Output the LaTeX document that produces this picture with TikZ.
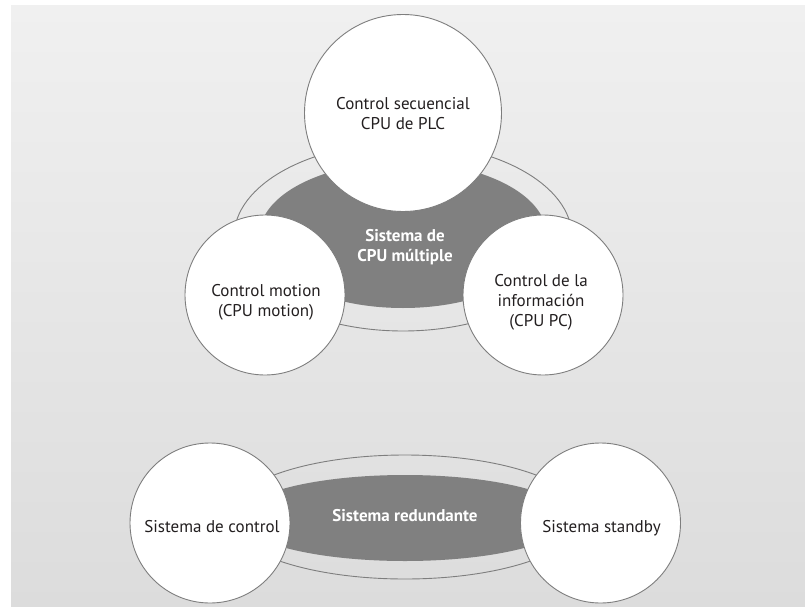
\documentclass[tikz,border=0pt]{standalone}
\usepackage{fontspec}
\setmainfont{PT Sans}
\usetikzlibrary{shapes.geometric}
\definecolor{panelTop}{HTML}{F0F0F0}
\definecolor{panelBot}{HTML}{DCDCDC}
\definecolor{hubgray}{HTML}{808080}
\definecolor{rim}{HTML}{7E7E7E}
\definecolor{ink}{HTML}{231F20}
\begin{document}
\begin{tikzpicture}[x=1pt,y=-1pt,
  unitcircle/.style={circle, draw=rim, line width=0.9pt, fill=white, inner sep=0pt},
  ring/.style={ellipse, draw=rim, line width=0.9pt, inner sep=0pt},
  hub/.style={ellipse, fill=hubgray, draw=none, inner sep=0pt},
  caption/.style={text=ink, font=\fontsize{17}{20}\selectfont, align=center, inner sep=0pt},
  hubtext/.style={text=white, font=\bfseries\fontsize{17}{20}\selectfont, align=center, inner sep=0pt}]
\useasboundingbox (0,0) rectangle (805,607);
% background panel
\shade[top color=panelTop, bottom color=panelBot] (11,6) rectangle (805,606);

% ---- multi-CPU system ----
\node[ring, minimum width=338pt, minimum height=188pt] (ringA) at (403,237) {};
\node[hub, minimum width=287pt, minimum height=146pt] (hubA) at (403,235) {};
\node[unitcircle, minimum size=197pt] (seq) at (403,113) {};
\node[unitcircle, minimum size=160pt] (motion) at (265,295) {};
\node[unitcircle, minimum size=160pt] (info) at (543,295) {};

\node[hubtext] (hubAtext) at (405,247.4) {Sistema de\\CPU múltiple};
\node[caption] (seqtext) at (403,113.8) {Control secuencial\\CPU de PLC};
\node[caption] (motiontext) at (266,302.8) {Control motion\\(CPU motion)};
\node[caption] (infotext) at (541,302.3) {Control de la\\información\\(CPU PC)};

% ---- redundant system ----
\node[ring, minimum width=356pt, minimum height=124pt] (ringB) at (405,517) {};
\node[hub, minimum width=332pt, minimum height=86pt] (hubB) at (405,518) {};
\node[unitcircle, minimum size=160pt] (ctrl) at (210,523) {};
\node[unitcircle, minimum size=160pt] (standby) at (600.5,523) {};

\node[hubtext] (hubBtext) at (405,516) {Sistema redundante};
\node[caption] (ctrltext) at (212,526.1) {Sistema de control};
\node[caption] (standbytext) at (601.5,528) {Sistema standby};
\end{tikzpicture}
\end{document}
